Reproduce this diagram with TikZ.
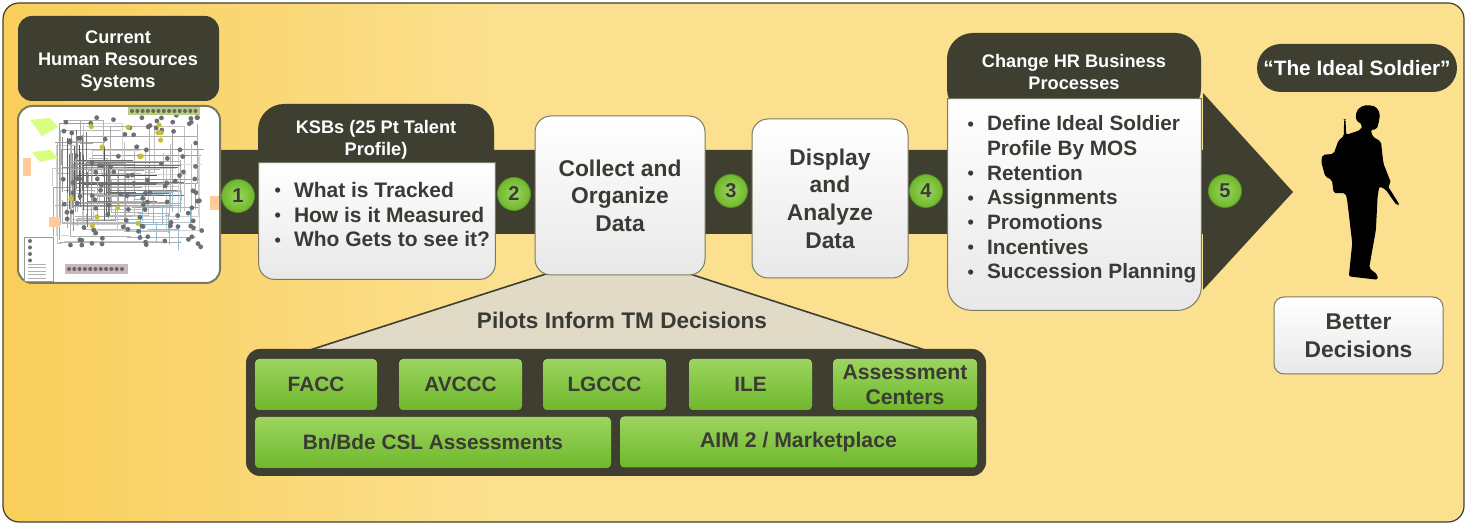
\documentclass[tikz,border=0pt]{standalone}
\usepackage{fontspec}
\setmainfont{Liberation Sans}
\usetikzlibrary{positioning,calc,fit,shapes}
\definecolor{bgA}{HTML}{F9CE5A}
\definecolor{bgB}{HTML}{FBE08F}
\definecolor{darkband}{HTML}{3F3F31}
\definecolor{greenA}{HTML}{9CD45F}
\definecolor{greenB}{HTML}{6FB82C}
\definecolor{tantop}{HTML}{E0DAC6}
\definecolor{inktext}{HTML}{3B3B35}
\definecolor{edgetan}{HTML}{7A7A62}
\definecolor{mapdot}{HTML}{6A7076}
\pgfdeclarehorizontalshading{bgshade}{100bp}{color(0bp)=(bgA); color(25bp)=(bgA); color(42bp)=(bgB); color(100bp)=(bgB)}
\newcommand{\bul}{\leavevmode\llap{\raisebox{0.3pt}{\fontsize{9}{9}\selectfont\textbullet}\hspace{6.5pt}}}

\begin{document}
\begin{tikzpicture}[
    x=0.5pt, y=-0.5pt,
    font=\bfseries,
    size/.style 2 args={minimum width=#1*0.5pt, minimum height=#2*0.5pt, inner sep=0pt},
    header/.style={rectangle, rounded corners=7pt, fill=darkband, text=white, align=center, font=\fontsize{9.1}{11}\bfseries},
    tophead/.style={rectangle, rounded corners=13pt, fill=darkband},
    body/.style={rectangle, rounded corners=8pt, draw=edgetan, line width=0.5pt, top color=white, bottom color=black!9, text=inktext, align=center, font=\fontsize{11.4}{13.8}\bfseries},
    bodyspace/.style={rectangle},
    bodypath/.style={draw=edgetan, line width=0.5pt, top color=white, bottom color=black!9},
    listtext/.style={anchor=west, align=left, text=inktext, inner sep=0pt, font=\fontsize{10.4}{12.35}\bfseries},
    pilot/.style={rectangle, rounded corners=2pt, top color=greenA, bottom color=greenB, text=inktext, align=center, font=\fontsize{10.4}{12.4}\bfseries},
    num/.style={circle, draw=greenB!80!black, line width=0.4pt, inner color=greenA, outer color=greenB, text=inktext, minimum size=16.5pt, inner sep=0pt, font=\fontsize{10}{10}\bfseries}
]
\useasboundingbox (0,0) rectangle (1468,528);

% Background
\draw[darkband, line width=0.6pt, rounded corners=8pt, shading=bgshade] (3,3) rectangle (1464,522);

% Main arrow
\fill[darkband] (220,150) -- (1203,150) -- (1203,93) -- (1293,192) -- (1203,290) -- (1203,234) -- (220,234) -- cycle;

% Current systems
\node[header, size={201}{85}] (current) at (118.5,58.5) {};
\node[header] (currenttitle) at (118,61.5) {Current\\Human Resources\\Systems};
\node[rectangle, rounded corners=7pt, draw=edgetan, line width=1pt, fill=white, size={202}{177}] (sysmap) at (119,194.5) {};

% System map picture
\begin{scope}
\pgfmathsetseed{41}
\foreach \i in {1,...,70} {
    \pgfmathsetmacro{\xa}{52+rnd*155}
    \pgfmathsetmacro{\xb}{52+rnd*155}
    \pgfmathsetmacro{\ya}{120+rnd*125}
    \pgfmathsetmacro{\yb}{120+rnd*125}
    \pgfmathsetmacro{\shade}{int(15+rnd*25)}
    \draw[black!\shade, line width=0.4pt] (\xa,\ya) -| (\xb,\yb);
}
\foreach \i in {1,...,26} {
    \pgfmathsetmacro{\xa}{62+rnd*50}
    \pgfmathsetmacro{\xb}{115+rnd*70}
    \pgfmathsetmacro{\ya}{160+rnd*50}
    \pgfmathsetmacro{\shade}{int(30+rnd*40)}
    \draw[black!\shade, line width=0.35pt] (\xa,\ya) -- (\xb,\ya);
    \draw[black!\shade, line width=0.35pt] (\xa,\ya-30) -- (\xa,\ya+25);
}
\foreach \i in {1,...,12} {
    \pgfmathsetmacro{\xa}{110+rnd*50}
    \pgfmathsetmacro{\ya}{190+rnd*40}
    \draw[cyan!40!gray!70, line width=0.4pt] (\xa,\ya) -| (\xa+30,\ya+20);
}
\foreach \i in {1,...,125} {
    \pgfmathsetmacro{\xa}{60+rnd*142}
    \pgfmathsetmacro{\ya}{115+rnd*132}
    \fill[mapdot] (\xa,\ya) circle (1.2pt);
}
\foreach \i in {1,...,14} {
    \pgfmathsetmacro{\xa}{70+rnd*115}
    \pgfmathsetmacro{\ya}{118+rnd*110}
    \fill[yellow!75!black] (\xa,\ya) circle (1.3pt);
}
\fill[green!30!yellow!45!gray!70] (128,107) rectangle (200,115);
\foreach \i in {0,...,12} \fill[black!60] (\i*5.3+132,111) circle (1pt);
\fill[purple!25!gray!45] (65,264) rectangle (128,274);
\foreach \i in {0,...,10} \fill[black!60] (\i*5.3+69,269) circle (1pt);
\fill[orange!40] (23,158) rectangle (31,176);
\fill[orange!40] (49,217) rectangle (60,227);
\fill[orange!40] (210,196) rectangle (219,210);
\draw[black!40, line width=0.3pt, fill=white] (24,237) rectangle (53,281);
\foreach \i in {0,...,3} \fill[mapdot] (30,241+\i*6.5) circle (1pt);
\foreach \i in {0,...,4} \draw[black!30, line width=0.3pt] (28,264+\i*3.5) -- (46,264+\i*3.5);
\fill[green!30!yellow!50!white] (30,120) -- (50,118) -- (58,127) -- (42,136) -- cycle;
\fill[green!30!yellow!50!white] (32,152) -- (50,150) -- (58,158) -- (40,162) -- cycle;
\end{scope}

% Pilots title shape
\draw[darkband, line width=0.8pt, fill=tantop] (310,350) -- (546,274) -- (690,274) -- (925,350) -- cycle;
\node[text=inktext, inner sep=0pt, font=\fontsize{11.3}{13}\bfseries] (pilotstitle) at (622,320) {Pilots Inform TM Decisions};

% KSB box
\node[tophead, size={236}{72}] (ksbhead) at (376,140) {};
\node[header] (ksbtitle) at (376,140) {KSBs (25 Pt Talent\\Profile)};
\node[bodyspace, size={236}{116}] (ksbbody) at (377,221) {};
\path[bodypath] (ksbbody.north west) -- (ksbbody.north east) [rounded corners=8pt] -- (ksbbody.south east) -- (ksbbody.south west) [sharp corners] -- cycle;
\node[listtext, xshift=17.5pt, yshift=3.2pt, font=\fontsize{10.5}{12.3}\bfseries] (ksblist) at (ksbbody.west) {\bul What is Tracked\\\bul How is it Measured\\\bul Who Gets to see it?};

% Process boxes
\node[body, size={170}{159}] (collect) at (620,195.5) {Collect and\\Organize\\Data};
\node[body, size={156}{159}] (display) at (830,198.5) {Display\\and\\Analyze\\Data};

% Change box
\node[tophead, size={254}{82}] (changehead) at (1074,74) {};
\node[header] (changetitle) at (1074,72) {Change HR Business\\Processes};
\node[bodyspace, size={253}{211}] (changebody) at (1074.5,204.5) {};
\path[bodypath] (changebody.north west) -- (changebody.north east) [rounded corners=12pt] -- (changebody.south east) -- (changebody.south west) [sharp corners] -- cycle;
\node[listtext, xshift=19.5pt, yshift=2.5pt] (changelist) at (changebody.west) {\bul Define Ideal Soldier\\Profile By MOS\\\bul Retention\\\bul Assignments\\\bul Promotions\\\bul Incentives\\\bul Succession Planning};

% Step numbers
\node[num] (one) at (238,196) {1};
\node[num] (two) at (514,194) {2};
\node[num] (three) at (731,191) {3};
\node[num] (four) at (926,191) {4};
\node[num] (five) at (1225,191) {5};

% Ideal soldier
\node[header, rounded corners=12pt, size={200}{48}, font=\fontsize{10.4}{12}\bfseries] (ideal) at (1357,68) {“The Ideal Soldier”};
\begin{scope}[shift={(1190,30)}, xscale=0.338, yscale=0.333]
\fill[black, rounded corners=1pt] (525,225) -- (550,230) -- (562,250) -- (560,270) -- (553,298) -- (535,300) -- (540,320) -- (565,335) -- (572,400) -- (595,460) -- (585,468) -- (620,525) -- (612,527) -- (578,478) -- (560,470) -- (555,500) -- (550,600) -- (530,715) -- (555,735) -- (555,750) -- (470,740) -- (480,640) -- (465,510) -- (460,490) -- (425,490) -- (420,450) -- (400,440) -- (388,395) -- (392,375) -- (425,372) -- (440,330) -- (455,320) -- (456,268) -- (460,268) -- (462,315) -- (505,300) -- (510,285) -- (490,270) -- (492,245) -- (505,230) -- cycle;
\end{scope}
\node[body, rounded corners=5pt, size={169}{77}] (better) at (1358.5,335.5) {Better\\Decisions};

% Pilots
\node[rectangle, rounded corners=7pt, fill=darkband, size={740}{127}] (panel) at (616,412.5) {};
\node[pilot, size={122}{51}] (facc) at (316,384.5) {FACC};
\node[pilot, size={123}{51}] (avccc) at (460.5,384.5) {AVCCC};
\node[pilot, size={123}{51}] (lgccc) at (604.5,384.5) {LGCCC};
\node[pilot, size={123}{51}] (ile) at (750.5,384.5) {ILE};
\node[pilot, size={144}{51}, font=\fontsize{10.6}{12.4}\bfseries] (assess) at (905,384.5) {Assessment\\Centers};
\node[pilot, size={356}{51}] (csl) at (433,442.5) {Bn/Bde CSL Assessments};
\node[pilot, size={357}{51}, font=\fontsize{10.6}{12.4}\bfseries] (aim) at (798.5,442) {AIM 2 / Marketplace};

\end{tikzpicture}
\end{document}
